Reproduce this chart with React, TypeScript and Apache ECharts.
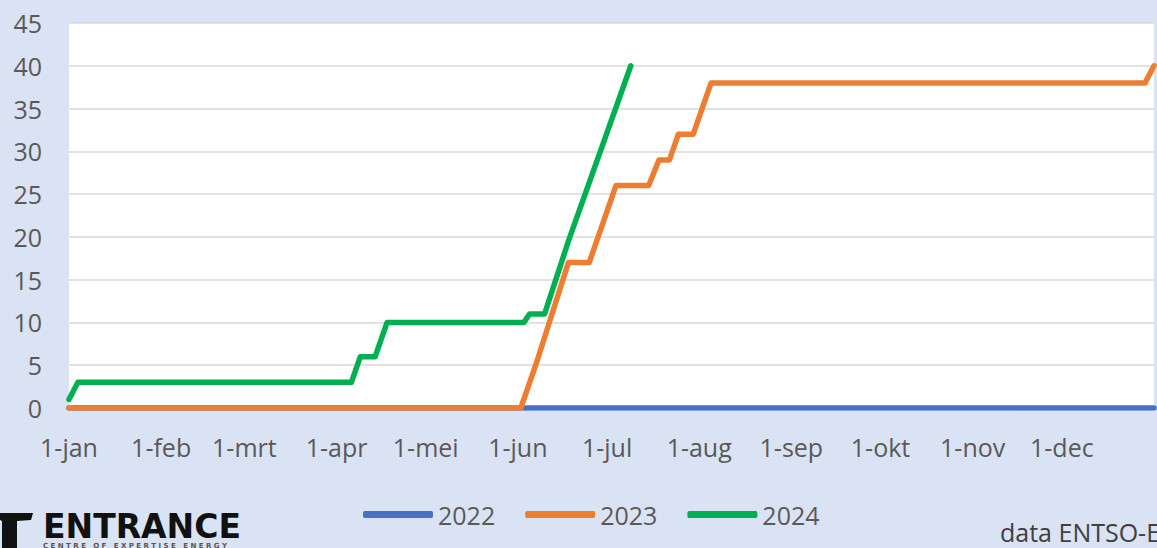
import React, { useEffect, useRef } from "react";
import * as echarts from "echarts";

// Day-of-year positions of the month labels and their Dutch names
const monthStarts = [0, 31, 59, 90, 120, 151, 181, 212, 243, 273, 304, 334];
const monthLabels = ["1-jan", "1-feb", "1-mrt", "1-apr", "1-mei", "1-jun", "1-jul", "1-aug", "1-sep", "1-okt", "1-nov", "1-dec"];

const seriesNames = ["2022", "2023", "2024"];

// [day of year, cumulative value]
const data2022: [number, number][] = [
  [0, 0],
  [365, 0],
];
const data2023: [number, number][] = [
  [0, 0], [152, 0], [157, 5], [168, 17], [175, 17], [184, 26], [195, 26],
  [198.5, 29], [202, 29], [205, 32], [210, 32], [216, 38], [362, 38], [365, 40],
];
const data2024: [number, number][] = [
  [0, 1], [3, 3], [95, 3], [98, 6], [103, 6], [107, 10], [153, 10],
  [155, 11], [160, 11], [168, 19.5], [189, 40],
];

const colors = ["#4472c4", "#ed7d31", "#00b050"];
const FONT = "Open Sans";

export default function App() {
  const ref = useRef<HTMLDivElement>(null);
  useEffect(() => {
    if (!ref.current) return;
    const chart = echarts.init(ref.current, undefined, { renderer: "svg" });
    const allData = [data2022, data2023, data2024];
    chart.setOption({
      animation: false,
      backgroundColor: "#dae3f3",
      grid: {
        left: 69,
        right: 3,
        top: 23,
        bottom: 140,
        show: true,
        backgroundColor: "#ffffff",
        borderWidth: 0,
      },
      xAxis: {
        type: "value",
        min: 0,
        max: 365,
        axisLine: { show: false },
        axisTick: { show: false },
        splitLine: { show: false },
        axisLabel: {
          customValues: monthStarts,
          formatter: (v: number) => {
            const i = monthStarts.indexOf(Math.round(v));
            return i >= 0 ? monthLabels[i] : "";
          },
          fontSize: 25,
          color: "#595959",
          fontFamily: FONT,
          margin: 26,
        },
      },
      yAxis: {
        type: "value",
        min: 0,
        max: 45,
        interval: 5,
        axisLine: { show: false },
        axisTick: { show: false },
        splitLine: { lineStyle: { color: "#d9d9d9", width: 1.5 } },
        axisLabel: {
          fontSize: 25,
          color: "#595959",
          fontFamily: FONT,
          margin: 27,
        },
      },
      legend: {
        data: seriesNames,
        left: 363,
        top: 502,
        icon: "roundRect",
        itemWidth: 70,
        itemHeight: 7,
        itemGap: 30,
        padding: 0,
        textStyle: { fontSize: 25, color: "#595959", fontFamily: FONT },
      },
      series: seriesNames.map((name, i) => ({
        name,
        type: "line",
        data: allData[i],
        showSymbol: false,
        symbol: "none",
        color: colors[i],
        lineStyle: { width: 5.5, color: colors[i], cap: "round", join: "round" },
        z: 2 + i,
      })),
      graphic: [
        {
          type: "polygon",
          shape: {
            points: [
              [0, 513], [33, 513], [31, 520], [17, 521], [17, 548], [2, 548], [2, 521], [0, 520],
            ],
          },
          style: { fill: "#111111" },
        },
        {
          type: "text",
          x: 43,
          y: 511.5,
          style: {
            text: "{a|ENTRANCE}\n{b|C E N T R E   O F   E X P E R T I S E   E N E R G Y}",
            verticalAlign: "top",
            rich: {
              a: {
                fontFamily: "DejaVu Sans",
                fontWeight: "bold",
                fontSize: 33,
                lineHeight: 30,
                fill: "#111111",
                color: "#111111",
              },
              b: {
                fontFamily: "DejaVu Sans",
                fontWeight: "bold",
                fontSize: 7,
                lineHeight: 9,
                fill: "#555555",
                color: "#555555",
              },
            },
          },
        },
        {
          type: "text",
          x: 1000,
          y: 519,
          style: {
            text: "data ENTSO-E",
            font: "25px 'Open Sans'",
            fill: "#404040",
          },
        },
      ],
    });
    return () => chart.dispose();
  }, []);
  return (
    <div
      ref={ref}
      style={{ position: "fixed", left: 0, top: 0, width: 1157, height: 548 }}
    />
  );
}
